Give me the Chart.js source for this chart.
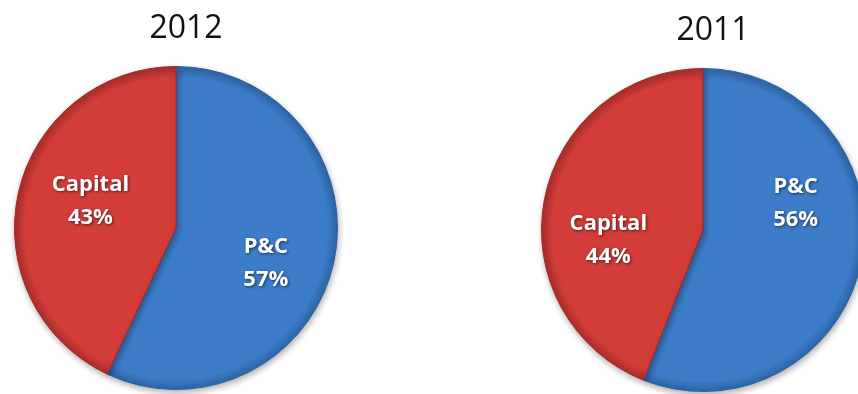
<!DOCTYPE html>
<html>
<head>
<meta charset="utf-8">
<script src="https://cdn.jsdelivr.net/npm/chart.js@4/dist/chart.umd.min.js"></script>
<style>
  html, body { margin: 0; padding: 0; background: #ffffff; width: 858px; height: 394px; overflow: hidden; }
  .pie { position: absolute; top: 0; width: 352px; height: 394px; }
</style>
</head>
<body>
<div class="pie" style="left:0px"><canvas id="pie2012"></canvas></div>
<div class="pie" style="left:527px"><canvas id="pie2011"></canvas></div>
<script>
// Business mix by year (percent of total)
const years = ['2012', '2011'];
const categories = ['P&C', 'Capital'];
const share2012 = [57, 43];
const share2011 = [56, 44];

// Slice palette: body colour and darker rim colour
const sliceBase = ['#3c7cc9', '#d23d39'];
const sliceRim  = ['#2d64a6', '#aa2d2a'];

// Radial fill that darkens slightly at the rim of the pie
function rimShade(c) {
  const i = c.dataIndex;
  const chart = c.chart;
  const area = chart.chartArea;
  if (!area) return sliceBase[i];
  const cx = (area.left + area.right) / 2;
  const cy = (area.top + area.bottom) / 2;
  const r = Math.min(area.right - area.left, area.bottom - area.top) / 2;
  const g = chart.ctx.createRadialGradient(cx, cy, 0, cx, cy, r);
  g.addColorStop(0, sliceBase[i]);
  g.addColorStop(0.93, sliceBase[i]);
  g.addColorStop(1, sliceRim[i]);
  return g;
}

// Soft drop shadow beneath the pie
const pieShadow = {
  id: 'pieShadow',
  beforeDatasetsDraw(chart) {
    const ctx = chart.ctx;
    ctx.save();
    ctx.shadowColor = 'rgba(0,0,0,0.3)';
    ctx.shadowBlur = 6;
    ctx.shadowOffsetX = 1;
    ctx.shadowOffsetY = 3;
  },
  afterDatasetsDraw(chart) {
    chart.ctx.restore();
  }
};

// Two-line white labels (category + percent) inside each slice
const sliceLabels = {
  id: 'sliceLabels',
  afterDatasetsDraw(chart, args, opts) {
    const meta = chart.getDatasetMeta(0);
    const values = chart.data.datasets[0].data;
    const ctx = chart.ctx;
    ctx.save();
    ctx.font = 'bold 22px "Open Sans", sans-serif';
    ctx.fillStyle = '#ffffff';
    ctx.textAlign = 'center';
    ctx.textBaseline = 'middle';
    ctx.shadowColor = 'rgba(0,0,0,0.6)';
    ctx.shadowBlur = 3;
    ctx.shadowOffsetX = 1;
    ctx.shadowOffsetY = 1;
    meta.data.forEach((arc, i) => {
      const p = arc.getProps(['x', 'y', 'outerRadius'], true);
      const a = opts.anchors[i];
      const px = p.x + a[0] * p.outerRadius;
      const py = p.y + a[1] * p.outerRadius;
      ctx.fillText(chart.data.labels[i], px, py - opts.lineGap / 2);
      ctx.fillText(values[i] + '%', px, py + opts.lineGap / 2);
    });
    ctx.restore();
  }
};

// Year heading above each pie
const yearTitle = {
  id: 'yearTitle',
  afterDraw(chart, args, opts) {
    const arc = chart.getDatasetMeta(0).data[0];
    const ctx = chart.ctx;
    ctx.save();
    ctx.font = '32px "Open Sans", sans-serif';
    ctx.fillStyle = '#111111';
    ctx.textAlign = 'center';
    ctx.textBaseline = 'alphabetic';
    ctx.fillText(opts.text, arc.x + opts.shiftX, opts.baseline);
    ctx.restore();
  }
};

function makePie(id, year, values, padTop, padBottom, anchors, baseline) {
  return new Chart(document.getElementById(id), {
    type: 'pie',
    data: {
      labels: categories,
      datasets: [{
        data: values,
        backgroundColor: rimShade,
        borderColor: ['#2f5f9c', '#a02c29'],
        borderWidth: 1
      }]
    },
    plugins: [pieShadow, sliceLabels, yearTitle],
    options: {
      responsive: true,
      maintainAspectRatio: false,
      animation: false,
      layout: { padding: { top: padTop, bottom: padBottom, left: 0, right: 0 } },
      plugins: {
        legend: { display: false },
        tooltip: { enabled: false },
        title: { display: false },
        sliceLabels: { anchors: anchors, lineGap: 33 },
        yearTitle: { text: year, shiftX: 10, baseline: baseline }
      }
    }
  });
}

makePie('pie2012', years[0], share2012, 66, 4,
  [[0.556, 0.216], [-0.53, -0.167]], 38);
makePie('pie2011', years[1], share2011, 68, 2,
  [[0.574, -0.167], [-0.586, 0.062]], 40);
</script>
</body>
</html>
